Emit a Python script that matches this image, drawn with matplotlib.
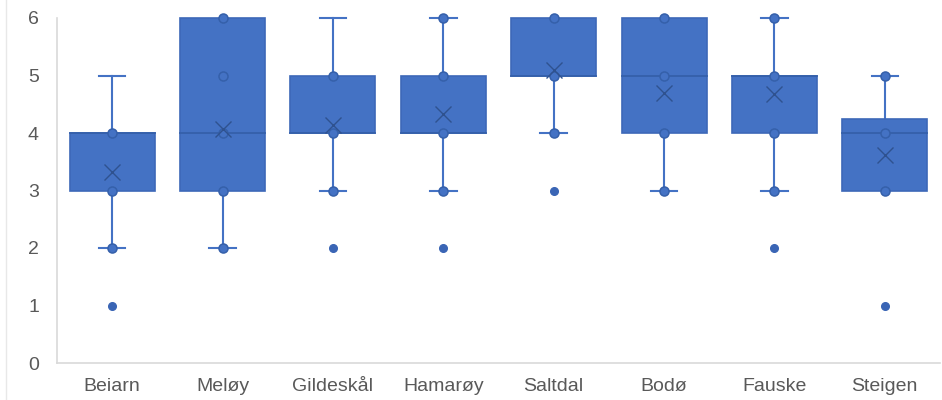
import matplotlib
matplotlib.use("Agg")
import matplotlib.pyplot as plt
from matplotlib.lines import Line2D

categories = ["Beiarn", "Meløy", "Gildeskål", "Hamarøy", "Saltdal", "Bodø", "Fauske", "Steigen"]
q1 = [3, 3, 4, 4, 5, 4, 4, 3]
median = [4, 4, 4, 4, 5, 5, 5, 4]
q3 = [4, 6, 5, 5, 6, 6, 5, 4.25]
whisker_low = [2, 2, 3, 3, 4, 3, 3, 3]
whisker_high = [5, 6, 6, 6, 6, 6, 6, 5]
means = [3.33, 4.07, 4.14, 4.33, 5.1, 4.7, 4.68, 3.62]
inner_points = [[2, 3, 4], [2, 3, 4, 5, 6], [3, 4, 5], [3, 4, 5, 6],
                [4, 5, 6], [3, 4, 5, 6], [3, 4, 5, 6], [3, 4, 5]]
outliers = [[1], [], [2], [2], [3], [], [2], [1]]

plt.rcParams['font.family'] = ['Liberation Sans', 'DejaVu Sans']
fill = '#4472C4'
line_c = '#4472C4'

fig = plt.figure(figsize=(9.42, 4.0), dpi=100)
ax = fig.add_axes([57/942, 1-363/400, (940-57)/942, (363-18)/400])

box_w = 0.77
cap_w = 0.24
for i, cat in enumerate(categories):
    # whiskers
    if whisker_high[i] > q3[i]:
        ax.plot([i, i], [q3[i], whisker_high[i]], color=line_c, lw=1.5, zorder=2, clip_on=False)
        ax.plot([i - cap_w/2, i + cap_w/2], [whisker_high[i]]*2, color=line_c, lw=1.5, zorder=2, clip_on=False)
    if whisker_low[i] < q1[i]:
        ax.plot([i, i], [whisker_low[i], q1[i]], color=line_c, lw=1.5, zorder=2)
        ax.plot([i - cap_w/2, i + cap_w/2], [whisker_low[i]]*2, color=line_c, lw=1.5, zorder=2)
    # box
    ax.bar(i, q3[i] - q1[i], bottom=q1[i], width=box_w, color=fill,
           edgecolor='#3D68B8', linewidth=1.2, zorder=3, clip_on=False)
    # median
    ax.plot([i - box_w/2, i + box_w/2], [median[i]]*2, color='#3560AA', lw=1.3, zorder=4)
    # inner points
    ax.plot([i]*len(inner_points[i]), inner_points[i], 'o', ms=6.5,
            mfc=fill, mec='#3560AA', mew=1.1, ls='none', zorder=5, clip_on=False)
    # outliers
    if outliers[i]:
        ax.plot([i]*len(outliers[i]), outliers[i], 'o', ms=5.5,
                mfc='#3A65B5', mec='#3A65B5', ls='none', zorder=5)
    # mean
    ax.plot(i, means[i], 'x', ms=11, mec='#2F528F', mew=1.0, zorder=6)

ax.set_xlim(-0.5, len(categories) - 0.5)
ax.set_ylim(0, 6)
ax.set_yticks(range(0, 7))
ax.set_xticks(range(len(categories)))
ax.set_xticklabels(categories)
ax.tick_params(axis='both', length=0, labelsize=14, colors='#595959')
ax.tick_params(axis='x', pad=11)
ax.tick_params(axis='y', pad=13)
for s in ['top', 'right']:
    ax.spines[s].set_visible(False)
for s in ['left', 'bottom']:
    ax.spines[s].set_color('#D9D9D9')
    ax.spines[s].set_linewidth(1.2)

fig.add_artist(Line2D([6/942, 6/942], [0, 1], color='#E8E8E8', lw=1))

fig.savefig("out.png", dpi=100)
